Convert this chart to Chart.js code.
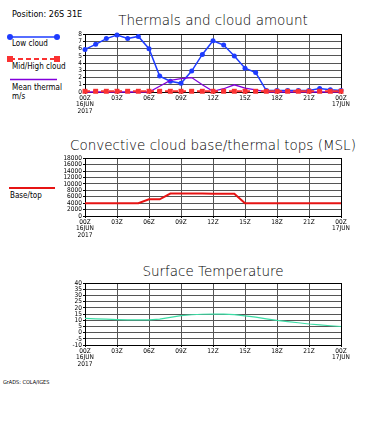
<!DOCTYPE html>
<html>
<head>
<meta charset="utf-8">
<script src="https://cdn.jsdelivr.net/npm/chart.js@4/dist/chart.umd.min.js"></script>
<style>
  body { margin: 0; width: 366px; height: 428px; overflow: hidden; position: relative; background: #fff; }
  .txt { position: absolute; white-space: nowrap; color: #000; line-height: 1;
         font-family: 'DejaVu Sans Condensed', 'DejaVu Sans', sans-serif; }
  .title { left: 33px; width: 360px; text-align: center; font-size: 13.5px; font-weight: 200;
           font-family: 'DejaVu Sans', sans-serif; }
  canvas { position: absolute; left: 0; }
  svg { position: absolute; left: 0; top: 0; }
</style>
</head>
<body>
<div class="txt" style="left:12px;top:10px;font-size:9px;">Position: 26S 31E</div>

<div class="txt title" style="top:14px;">Thermals and cloud amount</div>
<div class="txt title" style="top:139px;">Convective cloud base/thermal tops (MSL)</div>
<div class="txt title" style="top:265px;">Surface Temperature</div>

<div class="txt" style="left:12px;top:40px;font-size:8px;">Low cloud</div>
<div class="txt" style="left:12px;top:63px;font-size:8px;">Mid/High cloud</div>
<div class="txt" style="left:12px;top:84px;font-size:8px;">Mean thermal</div>
<div class="txt" style="left:12px;top:93px;font-size:8px;">m/s</div>
<div class="txt" style="left:10px;top:192px;font-size:8px;">Base/top</div>
<div class="txt" style="left:3px;top:380px;font-size:5.5px;">GrADS: COLA/IGES</div>

<svg width="80" height="200">
  <line x1="10" y1="37" x2="57" y2="37" stroke="#1e3cff" stroke-width="1.5"/>
  <circle cx="10" cy="37" r="3" fill="#1e3cff"/>
  <circle cx="57" cy="37" r="3" fill="#1e3cff"/>
  <line x1="10" y1="59" x2="57" y2="59" stroke="#fa3232" stroke-width="2" stroke-dasharray="5,3"/>
  <rect x="7" y="56" width="6" height="6" fill="#fa3232"/>
  <rect x="54" y="56" width="6" height="6" fill="#fa3232"/>
  <line x1="10" y1="79.5" x2="57" y2="79.5" stroke="#8200dc" stroke-width="1.3"/>
  <line x1="9" y1="188" x2="55" y2="188" stroke="#e61414" stroke-width="2"/>
</svg>

<canvas id="cloudChart" width="366" height="92" style="top:30px"></canvas>
<canvas id="baseChart" width="366" height="92" style="top:154px"></canvas>
<canvas id="tempChart" width="366" height="96" style="top:279px"></canvas>

<script>
const hours = [0, 1, 2, 3, 4, 5, 6, 7, 8, 9, 10, 11, 12, 13, 14, 15, 16, 17, 18, 19, 20, 21, 22, 23, 24];
const xTickHours = [0, 3, 6, 9, 12, 15, 18, 21, 24];
const xTickLabels = [['00Z', '16JUN', '2017'], '03Z', '06Z', '09Z', '12Z', '15Z', '18Z', '21Z', ['00Z', '17JUN']];

const lowCloud = [5.9, 6.6, 7.4, 7.9, 7.4, 7.7, 6.0, 2.2, 1.5, 1.2, 2.9, 5.2, 7.1, 6.5, 5.0, 3.3, 2.7, 0.2, 0.2, 0.2, 0.2, 0.2, 0.5, 0.3, 0.2];
const midHighCloud = [0.1, 0.1, 0.1, 0.1, 0.1, 0.1, 0.1, 0.1, 0.1, 0.1, 0.1, 0.1, 0.1, 0.1, 0.1, 0.1, 0.1, 0.1, 0.1, 0.1, 0.1, 0.1, 0.1, 0.1, 0.1];
const meanThermal = [0, 0, 0, 0, 0, 0, 0, 0.8, 1.6, 1.85, 2.0, 1.0, 0.1, 0.45, 1.0, 0.55, 0.3, 0, 0, 0, 0, 0, 0, 0, 0];
const cloudTicks = [0, 1, 2, 3, 4, 5, 6, 7, 8];

const baseTop = [4000, 4000, 4000, 4000, 4000, 4000, 5200, 5200, 7000, 7000, 7000, 7000, 6900, 6900, 6900, 4000, 4000, 4000, 4000, 4000, 4000, 4000, 4000, 4000, 4000];
const baseTicks = [0, 2000, 4000, 6000, 8000, 10000, 12000, 14000, 16000, 18000];

const temperature = [11.5, 11.2, 10.9, 10.6, 10.4, 10.3, 10.3, 11.0, 12.4, 13.8, 14.5, 14.9, 15.0, 15.0, 14.6, 13.6, 12.5, 11.2, 10.0, 9.0, 8.0, 7.0, 6.3, 5.6, 5.0];
const tempTicks = [-10, -5, 0, 5, 10, 15, 20, 25, 30, 35, 40];

const tickFamily = "'DejaVu Sans Condensed', 'DejaVu Sans', sans-serif";

function points(values) {
    return values.map((v, i) => ({ x: hours[i], y: v }));
}

// solid box round the plot, the grid inside stays dashed
const framePlugin = {
    id: 'frame',
    beforeDatasetsDraw(chart) {
        const { ctx, chartArea: a } = chart;
        ctx.save();
        ctx.strokeStyle = '#000';
        ctx.lineWidth = 1;
        ctx.setLineDash([]);
        ctx.strokeRect(Math.round(a.left) + 0.5, Math.round(a.top) + 0.5,
            Math.round(a.right - a.left), Math.round(a.bottom - a.top));
        ctx.restore();
    }
};

function makeChart(id, datasets, yTicks) {
    const grid = {
        color: '#555',
        lineWidth: 1,
        borderDash: [3, 2],
        tickColor: '#000',
        tickLength: 2,
        tickBorderDash: []
    };
    return new Chart(document.getElementById(id), {
        type: 'line',
        data: { datasets: datasets },
        options: {
            responsive: false,
            animation: false,
            events: [],
            layout: { padding: { top: 4, right: 25, left: 0, bottom: 0 } },
            plugins: { legend: { display: false }, tooltip: { enabled: false } },
            scales: {
                x: {
                    type: 'linear',
                    min: 0,
                    max: 24,
                    grid: grid,
                    border: { display: false },
                    afterBuildTicks: scale => { scale.ticks = xTickHours.map(v => ({ value: v })); },
                    afterFit: scale => { scale.height = 30; },
                    ticks: {
                        autoSkip: false,
                        maxRotation: 0,
                        padding: 1,
                        color: '#000',
                        font: { family: tickFamily, size: 6.5, lineHeight: 1.0 },
                        callback: (value, index) => xTickLabels[index]
                    }
                },
                y: {
                    type: 'linear',
                    min: yTicks[0],
                    max: yTicks[yTicks.length - 1],
                    grid: grid,
                    border: { display: false },
                    afterBuildTicks: scale => { scale.ticks = yTicks.map(v => ({ value: v })); },
                    afterFit: scale => { scale.width = 85; },
                    ticks: {
                        autoSkip: false,
                        padding: 1,
                        color: '#000',
                        font: { family: tickFamily, size: 6.5, lineHeight: 1.0 },
                        callback: value => String(value)
                    }
                }
            }
        },
        plugins: [framePlugin]
    });
}

makeChart('cloudChart', [
    {
        label: 'Low cloud',
        data: points(lowCloud),
        borderColor: '#1e3cff',
        backgroundColor: '#1e3cff',
        borderWidth: 1.5,
        pointRadius: 2.5,
        pointBorderWidth: 0,
        order: 3,
        clip: false
    },
    {
        label: 'Mean thermal m/s',
        data: points(meanThermal),
        borderColor: '#8200dc',
        borderWidth: 1.3,
        pointRadius: 0,
        order: 2,
        clip: false
    },
    {
        label: 'Mid/High cloud',
        data: points(midHighCloud),
        borderColor: '#fa3232',
        backgroundColor: '#fa3232',
        borderWidth: 2,
        borderDash: [5, 3],
        pointStyle: 'rect',
        pointRadius: 3.5,
        pointBorderWidth: 0,
        order: 1,
        clip: false
    }
], cloudTicks);

makeChart('baseChart', [
    {
        label: 'Base/top',
        data: points(baseTop),
        borderColor: '#e61414',
        borderWidth: 2,
        pointRadius: 0,
        clip: false
    }
], baseTicks);

makeChart('tempChart', [
    {
        label: 'Surface Temperature',
        data: points(temperature),
        borderColor: '#3cdca5',
        borderWidth: 1.2,
        pointRadius: 0,
        clip: false
    }
], tempTicks);
</script>
</body>
</html>
